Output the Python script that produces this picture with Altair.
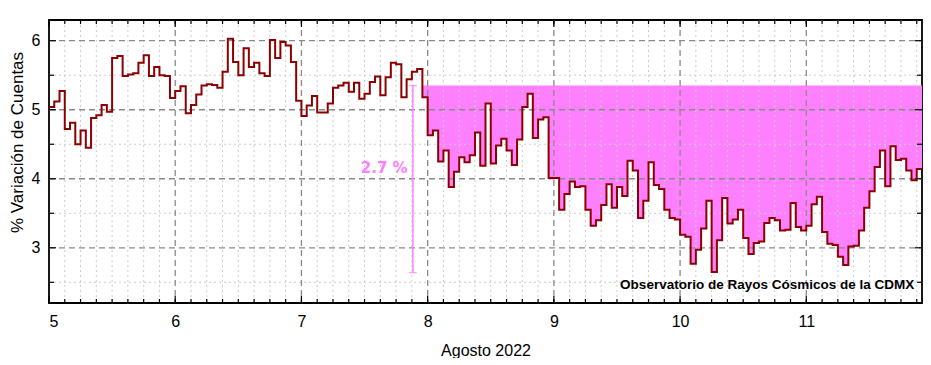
import altair as alt
import pandas as pd

# Hourly % variation of counts, one list per day (Agosto 2022)
day5 = [5.04, 5.12, 5.27, 4.72, 4.81, 4.50, 4.70, 4.45, 4.88, 4.92, 5.07, 4.97,
        5.75, 5.78, 5.49, 5.51, 5.53, 5.68, 5.79, 5.49, 5.62, 5.50, 5.49, 5.17]
day6 = [5.27, 5.34, 4.95, 5.07, 5.22, 5.35, 5.37, 5.36, 5.32, 5.55, 6.03, 5.69,
        5.50, 5.89, 5.62, 5.68, 5.53, 5.49, 6.01, 5.75, 5.98, 5.93, 5.69, 5.13]
day7 = [4.91, 5.06, 5.20, 4.96, 4.96, 5.09, 5.32, 5.35, 5.39, 5.26, 5.39, 5.16,
        5.23, 5.40, 5.48, 5.21, 5.47, 5.68, 5.66, 5.18, 5.44, 5.55, 5.59, 5.18]
day8 = [4.63, 4.70, 4.25, 4.41, 3.88, 4.10, 4.31, 4.24, 4.34, 4.67, 4.19, 5.09,
        4.22, 4.48, 4.58, 4.41, 4.20, 4.57, 5.04, 5.23, 4.59, 4.86, 4.89, 4.01]
day9 = [4.01, 3.55, 3.78, 3.96, 3.88, 3.89, 3.55, 3.32, 3.40, 3.62, 3.92, 3.58,
        3.88, 3.75, 4.26, 4.12, 3.43, 3.68, 4.24, 3.91, 3.85, 3.55, 3.43, 3.41]
day10 = [3.19, 3.16, 2.77, 2.97, 3.28, 3.68, 2.65, 3.11, 3.72, 3.35, 3.41, 3.55,
         3.14, 2.91, 3.07, 3.09, 3.36, 3.43, 3.40, 3.25, 3.26, 3.65, 3.30, 3.25]
day11 = [3.32, 3.63, 3.74, 3.23, 3.06, 3.04, 2.87, 2.75, 3.02, 3.03, 3.25, 3.58,
         3.82, 4.17, 4.41, 3.89, 4.47, 4.27, 4.29, 4.12, 3.98, 4.14]

first_day = 5
fill_start_hour = 71          # shaded region starts with this hourly bin
reference_level = 5.35        # upper edge of shaded region / error bar top
errbar_x = 7.883
errbar_low = 2.64
errbar_label = "2.7 %"
note = "Observatorio de Rayos Cósmicos de la CDMX"

x_ticks_major = [5, 6, 7, 8, 9, 10, 11]
x_grid_major = [6, 7, 8, 9, 10, 11]
x_grid_minor = [first_day + k / 8 for k in range(56) if k % 8 != 0]
x_ticks_minor = [first_day + k / 8 for k in range(56)]
y_ticks_major = [3, 4, 5, 6]
y_grid_minor = [2.5, 3.5, 4.5, 5.5]

# ---------------------------------------------------------------
vals = day5 + day6 + day7 + day8 + day9 + day10 + day11
n = len(vals)
x_end = first_day + n / 24
df = pd.DataFrame({"x": [first_day + i / 24 for i in range(n)] + [x_end],
                   "v": vals + [vals[-1]]})
df["top"] = reference_level
fill_df = df.iloc[fill_start_hour:]

W, H = 873, 283
xs = alt.Scale(domain=[first_day, x_end], nice=False, zero=False)
ys = alt.Scale(domain=[2.2, 6.3], nice=False, zero=False)

xaxis = alt.Axis(values=x_ticks_major, format="d", grid=False, ticks=False, domain=False,
                 labelPadding=10, title="Agosto 2022", titleY=39, titleBaseline="top",
                 titleFontSize=16)
yaxis = alt.Axis(values=y_ticks_major, format="d", grid=False, ticks=False, domain=False,
                 labelPadding=9, title="% Variación de Cuentas", titleX=-27, titleY=122,
                 titleAlign="center", titleBaseline="alphabetic", titleFontSize=17)

def X(f="x"):
    return alt.X(f, type="quantitative", scale=xs, axis=xaxis)

def Y(f="y"):
    return alt.Y(f, type="quantitative", scale=ys, axis=yaxis)

fill = alt.Chart(fill_df).mark_area(interpolate="step-after", color="#ff80ff", opacity=1).encode(
    x=X("x"), y=Y("v"), y2="top")

gx_min = alt.Chart(pd.DataFrame({"x": x_grid_minor})).mark_rule(
    color="#cccccc", strokeWidth=1, strokeDash=[2, 3]).encode(
    x=X("x"), y=alt.value(0), y2=alt.value(H))
gy_min = alt.Chart(pd.DataFrame({"y": y_grid_minor})).mark_rule(
    color="#cccccc", strokeWidth=1, strokeDash=[2, 3]).encode(
    y=Y("y"), x=alt.value(0), x2=alt.value(W))
gx_maj = alt.Chart(pd.DataFrame({"x": x_grid_major})).mark_rule(
    color="#8a8a8a", strokeWidth=1.3, strokeDash=[6, 4]).encode(
    x=X("x"), y=alt.value(0), y2=alt.value(H))
gy_maj = alt.Chart(pd.DataFrame({"y": y_ticks_major})).mark_rule(
    color="#8a8a8a", strokeWidth=1.3, strokeDash=[6, 4]).encode(
    y=Y("y"), x=alt.value(0), x2=alt.value(W))

# inward ticks on all four sides
txmin = pd.DataFrame({"x": x_ticks_minor})
txmaj = pd.DataFrame({"x": x_ticks_major})
tymin = pd.DataFrame({"y": y_grid_minor})
tymaj = pd.DataFrame({"y": y_ticks_major})
tk = dict(color="black", strokeWidth=1.2)
ticks = [
    alt.Chart(txmin).mark_rule(**tk).encode(x=X("x"), y=alt.value(H), y2=alt.value(H - 4)),
    alt.Chart(txmin).mark_rule(**tk).encode(x=X("x"), y=alt.value(0), y2=alt.value(4)),
    alt.Chart(txmaj).mark_rule(**tk).encode(x=X("x"), y=alt.value(H), y2=alt.value(H - 7)),
    alt.Chart(txmaj).mark_rule(**tk).encode(x=X("x"), y=alt.value(0), y2=alt.value(7)),
    alt.Chart(tymin).mark_rule(**tk).encode(y=Y("y"), x=alt.value(0), x2=alt.value(5)),
    alt.Chart(tymin).mark_rule(**tk).encode(y=Y("y"), x=alt.value(W), x2=alt.value(W - 5)),
    alt.Chart(tymaj).mark_rule(**tk).encode(y=Y("y"), x=alt.value(0), x2=alt.value(7)),
    alt.Chart(tymaj).mark_rule(**tk).encode(y=Y("y"), x=alt.value(W), x2=alt.value(W - 7)),
]

line = alt.Chart(df).mark_line(interpolate="step-after", color="#8b0000", strokeWidth=2).encode(
    x=X("x"), y=Y("v"))

eb_df = pd.DataFrame({"x": [errbar_x], "lo": [errbar_low], "hi": [reference_level]})
eb = alt.Chart(eb_df).mark_rule(color="#ff80ff", strokeWidth=1.5).encode(
    x=X("x"), y=Y("lo"), y2="hi")
caps_df = pd.DataFrame({"x": [errbar_x, errbar_x], "y": [errbar_low, reference_level]})
caps = alt.Chart(caps_df).mark_tick(color="#ff80ff", orient="horizontal", size=8,
                                    thickness=1.5).encode(x=X("x"), y=Y("y"))
lab_df = pd.DataFrame({"x": [errbar_x - 0.042], "y": [4.15], "t": [errbar_label]})
lab = alt.Chart(lab_df).mark_text(align="right", baseline="middle", font="DejaVu Sans",
                                  fontWeight="bold", fontSize=15, color="#ff80ff").encode(
    x=X("x"), y=Y("y"), text="t")

note_df = pd.DataFrame({"x": [11.855], "y": [2.46], "t": [note]})
note_t = alt.Chart(note_df).mark_text(align="right", baseline="middle", font="Liberation Sans",
                                      fontWeight="bold", fontSize=13.5, color="black").encode(
    x=X("x"), y=Y("y"), text="t")

chart = alt.layer(fill, gx_min, gy_min, gx_maj, gy_maj, *ticks, line, eb, caps, lab, note_t).properties(
    width=W, height=H,
    padding={"left": 41, "top": 12, "right": 1, "bottom": 55},
    autosize=alt.AutoSizeParams(type="none"),
).configure_view(stroke="black", strokeWidth=1.8).configure_axis(
    labelFont="Liberation Sans", labelFontSize=16, labelColor="black",
    titleFont="Liberation Sans", titleFontWeight="normal", titleColor="black",
)

chart.save("out.html", embed_options={"renderer": "svg", "actions": False})
